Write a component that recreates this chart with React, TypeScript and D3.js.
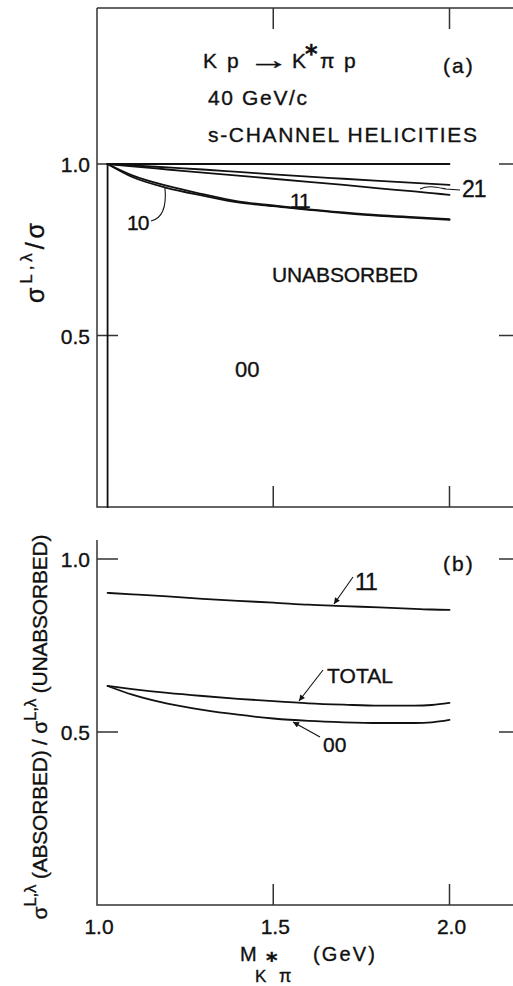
import React from 'react'
import * as d3 from 'd3'

// K* pi invariant mass grid (GeV)
const mass = [1.03, 1.1, 1.2, 1.3, 1.4, 1.5, 1.6, 1.7, 1.8, 1.9, 1.95, 2.0]

// (a) unabsorbed helicity fractions
const unabsFlat = [1, 1, 1, 1, 1, 1, 1, 1, 1, 1, 1, 1]
const unabs21Upper = [1.0, 0.996, 0.99, 0.984, 0.977, 0.97, 0.963, 0.957, 0.951, 0.945, 0.942, 0.939]
const unabs21Lower = [1.0, 0.993, 0.984, 0.975, 0.966, 0.957, 0.948, 0.939, 0.929, 0.92, 0.915, 0.91]
const unabs11 = [1.0, 0.962, 0.93, 0.908, 0.888, 0.877, 0.866, 0.857, 0.849, 0.843, 0.84, 0.837]
const unabs10 = [1.0, 0.967, 0.936, 0.912, 0.891, 0.879, 0.868, 0.859, 0.851, 0.845, 0.842, 0.839]
const mass00 = [1.03, 1.03]
const unabs00 = [1.0, 0.0]

// (b) absorbed / unabsorbed ratios
const ratio11 = [0.902, 0.898, 0.892, 0.885, 0.879, 0.874, 0.868, 0.864, 0.86, 0.856, 0.854, 0.853]
const ratioTotal = [0.633, 0.624, 0.613, 0.604, 0.596, 0.589, 0.583, 0.579, 0.576, 0.576, 0.578, 0.584]
const ratio00 = [0.633, 0.608, 0.582, 0.564, 0.55, 0.539, 0.532, 0.528, 0.526, 0.526, 0.528, 0.535]

const xTicks = [1.0, 1.5, 2.0]
const xTickLabels = ['1.0', '1.5', '2.0']
const yTicks = [0.5, 1.0]
const yTickLabels = ['0.5', '1.0']

const FONT = 'Liberation Sans, Arial, sans-serif'
const INK = '#111'

export default function App() {
  const x = d3.scaleLinear().domain([1, 2]).range([97, 449.5])
  const yA = d3.scaleLinear().domain([0, 1]).range([507, 164])
  const yB = d3.scaleLinear().domain([0, 1]).range([905, 559])

  const xL = x(1), xR = x(2.2)
  const topA = yA(1.455), botA = yA(0)
  const topB = yB(1.055), botB = yB(0)
  const tk = 21

  const mk = (xs: number[], ys: number[], ys2: d3.ScaleLinear<number, number>, curve = d3.curveMonotoneX) =>
    d3.line<number>().x((_, i) => x(xs[i])).y(d => ys2(d)).curve(curve)(ys) || ''

  const curvesA = [unabsFlat, unabs21Upper, unabs21Lower, unabs11, unabs10]
  const curvesB = [ratio11, ratioTotal, ratio00]

  return (
    <svg width={513} height={986} style={{ position: 'absolute', left: 0, top: 0, background: '#fff' }}
      fontFamily={FONT} fill={INK}>
      <defs>
        <marker id="ah" viewBox="0 0 10 10" refX="10" refY="5" markerWidth="9" markerHeight="6"
          orient="auto" markerUnits="userSpaceOnUse">
          <path d="M0,0 L10,5 L0,10 z" fill={INK} />
        </marker>
      </defs>

      {/* panel (a) frame */}
      <g stroke="#333" strokeWidth={1.5} fill="none">
        <path d={`M${xL},${topA} L${xR},${topA} M${xL},${topA} L${xL},${botA} L${xR},${botA}`} />
        {xTicks.slice(1).map(t => (
          <path key={'a' + t} d={`M${x(t)},${topA} v${tk} M${x(t)},${botA} v${-tk}`} />
        ))}
        {yTicks.map(t => (
          <path key={'ay' + t} d={`M${xL},${yA(t)} h${tk} M${xR},${yA(t)} h${-tk}`} />
        ))}
      </g>

      {/* panel (b) frame */}
      <g stroke="#333" strokeWidth={1.5} fill="none">
        <path d={`M${xL},${topB} L${xL},${botB} L${xR},${botB}`} />
        {xTicks.slice(1).map(t => (
          <path key={'b' + t} d={`M${x(t)},${botB} v${-tk}`} />
        ))}
        {yTicks.map(t => (
          <path key={'by' + t} d={`M${xL},${yB(t)} h${tk} M${xR},${yB(t)} h${-tk}`} />
        ))}
      </g>

      {/* curves */}
      <g stroke={INK} strokeWidth={1.8} fill="none" strokeLinecap="round">
        {curvesA.map((c, i) => <path key={'ca' + i} d={mk(mass, c, yA)} />)}
        <path d={mk(mass00, unabs00, yA, d3.curveLinear)} />
        {curvesB.map((c, i) => <path key={'cb' + i} d={mk(mass, c, yB)} />)}
      </g>

      {/* leaders */}
      <g stroke={INK} strokeWidth={1.1} fill="none">
        <path d="M151,221 C160,219 167,211 165,188" />
        <path d="M420,189 C428,185 436,187 446,189 L460,190" />
        <path d="M353,577 L334,604" markerEnd="url(#ah)" />
        <path d="M323,670 L299,701" markerEnd="url(#ah)" />
        <path d="M320,737 L293,722" markerEnd="url(#ah)" />
      </g>

      <g stroke={INK} strokeWidth={0.35}>
        {/* tick labels */}
        <g fontSize={21}>
          {yTicks.map((t, i) => (
            <text key={'la' + t} x={90} y={yA(t) + 8} textAnchor="end">{yTickLabels[i]}</text>
          ))}
          {yTicks.map((t, i) => (
            <text key={'lb' + t} x={90} y={yB(t) + 8} textAnchor="end">{yTickLabels[i]}</text>
          ))}
          {xTicks.map((t, i) => (
            <text key={'lx' + t} x={x(t) + 2} y={934} textAnchor="middle">{xTickLabels[i]}</text>
          ))}
        </g>

        {/* panel (a) annotations */}
        <g fontSize={21}>
          <text y={68}>
            <tspan x={203}>K</tspan>
            <tspan x={227}>p</tspan>
            <tspan x={248} y={69} fontSize={26} textLength={42} lengthAdjust="spacingAndGlyphs">→</tspan>
            <tspan x={292} y={68}>K</tspan>
            <tspan x={305} y={62} fontFamily="DejaVu Sans" fontWeight="bold" fontSize={24}>*</tspan>
            <tspan x={320} y={68}>π</tspan>
            <tspan x={344}>p</tspan>
          </text>
          <text x={443} y={73} letterSpacing={2}>(a)</text>
          <text x={208} y={105} textLength={99}>40 GeV/c</text>
          <text x={208} y={142} textLength={269}>s-CHANNEL HELICITIES</text>
          <text x={290} y={208} letterSpacing={-1}>11</text>
          <text x={127} y={230} letterSpacing={-1}>10</text>
          <text x={462} y={197} fontSize={23} letterSpacing={-1}>21</text>
          <text x={272} y={282} textLength={146}>UNABSORBED</text>
          <text x={235} y={377} fontSize={22}>00</text>
        </g>

        {/* panel (b) annotations */}
        <g fontSize={21}>
          <text x={443} y={571} letterSpacing={2}>(b)</text>
          <text x={355} y={590} fontSize={23} letterSpacing={-1}>11</text>
          <text x={327} y={683} textLength={66}>TOTAL</text>
          <text x={323} y={752}>00</text>
        </g>

        {/* axis titles */}
        <text transform="translate(44,263) rotate(-90)" textAnchor="middle" fontSize={25} textLength={80}>
          σ<tspan fontSize={17} dy={-12}>L,λ</tspan><tspan fontSize={25} dy={12}>/σ</tspan>
        </text>
        <text transform="translate(47,727) rotate(-90)" textAnchor="middle" fontSize={21} textLength={385}>
          σ<tspan fontSize={17} dy={-11}>L,λ</tspan><tspan fontSize={21} dy={11}> (ABSORBED) / σ</tspan><tspan fontSize={17} dy={-11}>L,λ</tspan><tspan fontSize={21} dy={11}> (UNABSORBED)</tspan>
        </text>
        <text x={240} y={961} fontSize={20}>M<tspan x={255} y={982} fontSize={17}>K</tspan><tspan x={266} y={968} fontFamily="DejaVu Sans" fontWeight="bold" fontSize={22}>*</tspan><tspan x={279} y={982} fontSize={18}>π</tspan><tspan x={313} y={961} fontSize={20} textLength={62}>(GeV)</tspan></text>
      </g>
    </svg>
  )
}
